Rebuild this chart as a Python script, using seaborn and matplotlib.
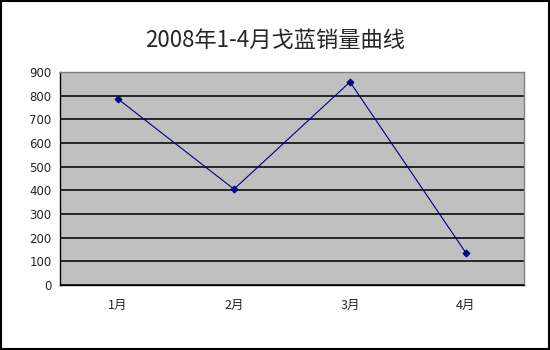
import matplotlib
matplotlib.use("Agg")
import matplotlib.pyplot as plt
import seaborn as sns
import pandas as pd
from matplotlib.patches import Rectangle

months = ["1月", "2月", "3月", "4月"]
sales = [786, 405, 858, 135]
title = "2008年1-4月戈蓝销量曲线"
yticks = [0, 100, 200, 300, 400, 500, 600, 700, 800, 900]

sns.set_style("white")
plt.rcParams['font.family'] = ['Noto Sans CJK SC', 'DejaVu Sans']

df = pd.DataFrame({"month": months, "sales": sales})

fig = plt.figure(figsize=(5.5, 3.5), dpi=100)
ax = fig.add_axes([60/550, 65/350, 464/550, 213/350])
ax.set_facecolor("#C0C0C0")

sns.lineplot(data=df, x="month", y="sales", ax=ax, color="#000080",
             linewidth=0.8, marker="D", markersize=3.5,
             markeredgecolor="#000080", markerfacecolor="#000080", sort=False)

ax.set_xlim(-0.5, 3.5)
ax.set_ylim(0, 900)
ax.set_yticks(yticks)
ax.set_yticklabels([str(v) for v in yticks], fontsize=8.5, family=['DejaVu Sans'])
ax.set_xticks(range(len(months)))
ax.set_xticklabels(months, fontsize=9)
ax.tick_params(axis='x', which='major', length=0, pad=10)
ax.set_xticks([0.5, 1.5, 2.5, 3.5], minor=True)
ax.tick_params(axis='x', which='minor', length=3, direction='in', width=0.8, color='black')
ax.tick_params(axis='y', which='major', length=3, direction='out', width=0.8, pad=3)
ax.set_xlabel("")
ax.set_ylabel("")

ax.yaxis.grid(True, color="#1a1a1a", linewidth=1.3)
ax.set_axisbelow(True)

for side in ["top", "right"]:
    ax.spines[side].set_color("#808080")
    ax.spines[side].set_linewidth(1.0)
for side in ["left", "bottom"]:
    ax.spines[side].set_color("black")
    ax.spines[side].set_linewidth(1.0)

fig.text(0.5, 1 - 40/350, title, ha="center", va="center", fontsize=16, fontweight="medium")

fig.patches.append(Rectangle((0.002, 0.003), 0.996, 0.994, transform=fig.transFigure,
                             fill=False, edgecolor="black", linewidth=1.5))

fig.savefig("out.png", dpi=100)
